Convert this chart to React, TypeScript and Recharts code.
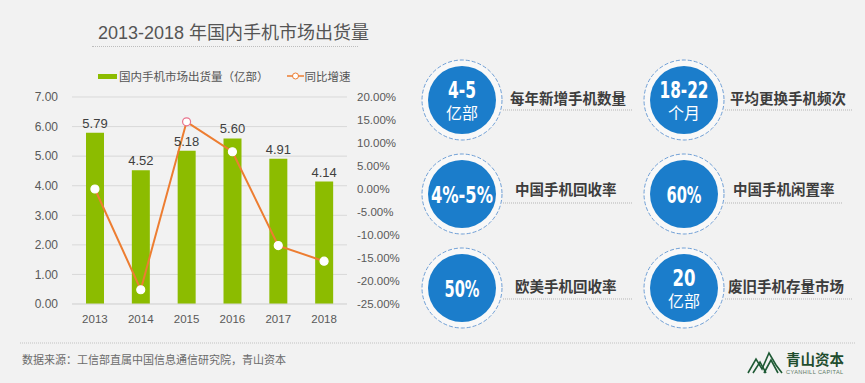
import { Bar, CartesianGrid, ComposedChart, LabelList, Line, XAxis, YAxis } from "recharts";

const YEARS = ["2013", "2014", "2015", "2016", "2017", "2018"];
const SHIPMENTS = [5.79, 4.52, 5.18, 5.6, 4.91, 4.14]; // 亿部
const GROWTH = [0, -21.9, 14.6, 8.1, -12.3, -15.7]; // %
const LEFT_TICKS = [0, 1, 2, 3, 4, 5, 6, 7];
const RIGHT_TICKS = [-25, -20, -15, -10, -5, 0, 5, 10, 15, 20];

const STAT_VALUES = ["4-5", "18-22", "4%-5%", "60%", "50%", "20"];
const STAT_UNITS = ["亿部", "个月", "", "", "", "亿部"];
const STAT_LABELS = ["每年新增手机数量", "平均更换手机频次", "中国手机回收率", "中国手机闲置率", "欧美手机回收率", "废旧手机存量市场"];

const FONT = '"Liberation Sans", "Noto Sans CJK SC", sans-serif';
const NUM_FONT = '"DejaVu Sans Condensed", "Liberation Sans", sans-serif';
const GREEN = "#8cbc00";
const ORANGE = "#ed7d31";
const BLUE = "#1b7dcb";

const data = YEARS.map((year, i) => ({ year, shipments: SHIPMENTS[i], growth: GROWTH[i] }));

function GrowthDot(props: any) {
  const { cx, cy, index } = props;
  return (
    <circle
      key={index}
      cx={cx}
      cy={cy}
      r={4}
      fill="#fff"
      stroke={index === 2 ? "#e8738c" : "#fff"}
      strokeWidth={1.2}
    />
  );
}

function Stats() {
  const colX = [462, 684];
  const rowY = [100, 194, 288];
  const textX = [[510, 730], [515, 733], [515, 728]];
  const lineEnd = [[633, 853], [633, 842], [633, 853]];
  // squeeze the bold numbers to a condensed look
  const numWidth = [28, 49, 62, 35, 35, 23];
  return (
    <svg width={865} height={383} style={{ position: "absolute", left: 0, top: 0 }}>
      {STAT_VALUES.map((v, i) => {
        const col = i % 2;
        const row = Math.floor(i / 2);
        const cx = colX[col];
        const cy = rowY[row];
        const unit = STAT_UNITS[i];
        return (
          <g key={i}>
            <circle cx={cx} cy={cy} r={40} fill="#f8f8f8" stroke="#6f9fd6" strokeWidth={1} strokeDasharray="4 2" />
            <circle cx={cx} cy={cy} r={34} fill={BLUE} />
            <text
              x={cx}
              y={unit ? cy - 10 : cy + 1}
              textAnchor="middle"
              dominantBaseline="central"
              fill="#fff"
              fontFamily={NUM_FONT}
              fontWeight="bold"
              fontSize={23}
              textLength={numWidth[i]}
              lengthAdjust="spacingAndGlyphs"
            >
              {v}
            </text>
            {unit && (
              <text x={cx} y={cy + 13} textAnchor="middle" dominantBaseline="central" fill="#fff" fontFamily={FONT} fontSize={16}>
                {unit}
              </text>
            )}
            <text
              x={textX[row][col]}
              y={cy - (row === 1 ? 4 : 1)}
              dominantBaseline="central"
              fill="#3d3d3d"
              fontFamily={FONT}
              fontWeight="bold"
              fontSize={14.5}
            >
              {STAT_LABELS[i]}
            </text>
            <line
              x1={col === 0 ? 503 : 725}
              x2={lineEnd[row][col]}
              y1={[110, 203, 299][row]}
              y2={[110, 203, 299][row]}
              stroke="#b5b5b5"
              strokeDasharray="1 1"
            />
          </g>
        );
      })}
      {/* footer */}
      <line x1={20} x2={855} y1={343} y2={343} stroke="#c2c2c2" strokeDasharray="1 1" />
      <text x={22} y={360} dominantBaseline="central" fill="#6b6b6b" fontFamily={FONT} fontSize={11}>
        数据来源：工信部直属中国信息通信研究院，青山资本
      </text>
      <g fill="none" stroke="#1f5a35" strokeWidth={1.6}>
        <polyline points="748,373 756,359 762,369 769,353 776,365 782,373" />
        <polyline points="753,373 760,362 766,373" />
        <polyline points="764,373 771,360 778,373" />
      </g>
      <text x={786} y={360} dominantBaseline="central" fill="#1f4d2e" fontFamily={FONT} fontWeight="bold" fontSize={14.5}>
        青山资本
      </text>
      <text x={786} y={372} dominantBaseline="central" fill="#5d7a66" fontFamily={FONT} fontSize={5.6} letterSpacing={0.4}>
        CYANHILL CAPITAL
      </text>
    </svg>
  );
}

export default function App() {
  return (
    <div style={{ position: "relative", width: 865, height: 383, background: "#f2f2f2", overflow: "hidden", fontFamily: FONT }}>
      <style>{`body{margin:0}`}</style>
      <div style={{ position: "absolute", left: 98, top: 22, fontSize: 18, color: "#555", whiteSpace: "nowrap", lineHeight: "22px" }}>
        2013-2018 年国内手机市场出货量
      </div>
      <div style={{ position: "absolute", left: 92, top: 46, width: 266, borderTop: "1px dotted #bdbdbd" }} />
      <div style={{ position: "absolute", left: 98, top: 68, display: "flex", alignItems: "center", fontSize: 11.5, color: "#555", whiteSpace: "nowrap" }}>
        <span style={{ display: "inline-block", width: 19, height: 5, background: GREEN, marginRight: 2 }} />
        <span>国内手机市场出货量（亿部）</span>
        <svg width={17} height={10} style={{ marginLeft: 18, marginRight: 1 }}>
          <line x1={0} x2={17} y1={5} y2={5} stroke={ORANGE} strokeWidth={1.5} />
          <circle cx={8.5} cy={5} r={3} fill="#fff" stroke={ORANGE} strokeWidth={1} />
        </svg>
        <span>同比增速</span>
      </div>
      <div style={{ position: "absolute", left: 0, top: 0 }}>
        <ComposedChart width={420} height={340} data={data} margin={{ top: 97, right: 13, left: 0, bottom: 6 }}>
          <CartesianGrid yAxisId="left" vertical={false} stroke="#d9d9d9" />
          <XAxis
            dataKey="year"
            tickLine={false}
            axisLine={{ stroke: "#d9d9d9" }}
            tickMargin={5}
            height={30}
            tick={{ fontSize: 11.5, fill: "#595959" }}
          />
          <YAxis
            yAxisId="left"
            domain={[0, 7]}
            ticks={LEFT_TICKS}
            interval={0}
            width={72}
            tickLine={false}
            axisLine={false}
            tickMargin={8}
            tickFormatter={(v) => v.toFixed(2)}
            tick={{ fontSize: 12, fill: "#595959" }}
          />
          <YAxis
            yAxisId="right"
            orientation="right"
            domain={[-25, 20]}
            ticks={RIGHT_TICKS}
            interval={0}
            width={60}
            tickLine={false}
            axisLine={false}
            tickMargin={4}
            tickFormatter={(v) => `${v.toFixed(2)}%`}
            tick={{ fontSize: 11.5, fill: "#595959" }}
          />
          <Bar yAxisId="left" dataKey="shipments" fill={GREEN} barSize={18} isAnimationActive={false}>
            <LabelList
              dataKey="shipments"
              position="top"
              formatter={(v: any) => Number(v).toFixed(2)}
              style={{ fontSize: 13, fill: "#404040" }}
            />
          </Bar>
          <Line
            yAxisId="right"
            dataKey="growth"
            stroke={ORANGE}
            strokeWidth={2}
            dot={<GrowthDot />}
            activeDot={false}
            isAnimationActive={false}
          />
        </ComposedChart>
      </div>
      <Stats />
    </div>
  );
}
